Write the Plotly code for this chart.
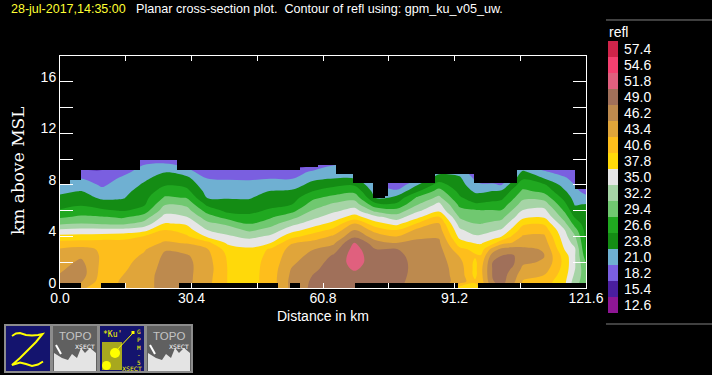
import plotly.graph_objects as go

# ---- data ----
distance_km = [0.0, 4.86, 9.73, 14.6, 19.46, 24.3, 29.2, 34.05, 38.9, 43.8, 48.6, 53.5, 58.4, 63.2,
               68.1, 73.0, 77.8, 82.7, 87.6, 92.4, 95.95, 97.3, 100.0, 102.1, 104.6, 107.0, 111.9, 116.7, 119.0, 121.6]
height_km = [0, 0.5, 1, 1.5, 2, 2.5, 3, 3.5, 4, 4.5, 5, 5.5, 6, 6.5, 7, 7.5, 8, 8.5, 9, 9.5, 10]

refl_by_column = [
    [47.5,47,46.4,45.7,45,44.4,43.7,41.6,38.6,35.5,31.7,29,26.9,25.6,24.4,23.2,22,21,20,19,18],
    [44,46.5,47.5,47.5,46.8,45.7,44.3,41.8,38.8,35.8,32.2,29.9,27.8,26.2,25,23.9,22.6,21,18.9,17.5,16.5],
    [41.5,42,42.3,42.5,42.8,43,43,42,39,35.8,31.8,29.6,27.1,25.1,23.3,21.8,20.6,19.5,18.5,17.5,16.5],
    [44,43.8,43.4,43,42.7,42.2,42,41.7,39.4,35.9,31.6,29,26.4,24.8,23.6,23,22.3,21.6,20.2,19,18],
    [45,45,44.9,44.7,44.3,43.8,43.1,42,40.7,36.9,33.2,30.7,28,26.2,25.7,25,24.2,23.3,22.3,21.3,18],
    [47.5,47.5,47.5,47.2,47,46.7,46,43.8,42.2,40.6,38,36,33.9,32,29.8,28,26.4,25.1,23.7,22,19],
    [46.8,47,47,47,47,46.6,45,43.2,41.1,39.2,37.4,35.2,33.4,31.5,29.3,27.5,25.9,24.6,22.4,20.5,19],
    [44,44.3,44.5,44.7,44.5,44.2,43.6,41.4,37.4,35,32.9,30.7,28.3,25.9,23.7,22.8,22,21,19,17.5,16.5],
    [40.3,40.4,40.4,40.4,40.3,40.1,39.3,37.2,35.4,33.6,31.5,28.2,25.8,24.4,23.7,22.8,21.8,20.8,19,17.5,16.5],
    [39.5,39.5,39.5,39.5,39.5,39.2,38.3,36.5,34.2,31.6,29.3,27.3,25.9,24.7,23.6,22.7,21.8,20.7,19,17.5,16.5],
    [41.5,41.8,41.8,41.7,41.5,41.3,41,37.6,35.5,33.2,31,29,27,25.8,24.9,23.9,22.4,20.9,19,17.5,16.5],
    [47,47,46.7,46.3,45.6,45,44.3,43.2,39.6,36.6,34,31.2,28.5,26.4,25.3,24.2,22.5,20.8,19,17.5,16.5],
    [49.6,49.4,49,48.4,47.8,47,46.1,44.2,42,39,36.4,34.2,32.4,30.6,28.8,26.6,24.7,23.2,21.7,18.2,16.5],
    [50.5,50.5,50.4,50.2,49.9,49.3,47.7,45.6,43.8,41.4,38.6,36.4,34.4,32.6,30.3,28,25.9,23.8,22.4,21.1,19],
    [49.5,50,51,52.2,53,53.2,53,52.2,48.4,46.2,43.4,38.9,36.1,33.6,31.2,28.7,26.3,23.8,22.5,21,19],
    [49.8,50,50.2,50.3,50.3,50,49.1,47.1,44.9,42.2,38.7,35.8,31.4,27.3,23.7,22.5,21.5,20.5,19.5,18.5,17.5],
    [49.6,49.8,50,50.2,50.1,49.8,49.2,46.1,43.4,40.6,36.8,33.6,30.5,27,24.8,21.7,18.9,17.5,16.5,16,15.5],
    [47.5,47.8,48,48,48,47.8,47.4,46.8,45.7,44.1,40.9,37.2,34.5,32,29.9,26.4,23.8,21,19,18,17],
    [47.3,47.5,47.5,47.5,47.5,47.4,47.2,46.7,45.9,44.7,43.5,40.8,37.3,35.7,32.9,30.6,27.8,25.2,23,21,19],
    [39,45.2,45,44.8,44.2,43.2,41.3,39.1,36.9,35.5,33.7,31.9,30.3,28.6,27,25.8,25,24.3,22.8,21,19],
    [39.5,41,39.8,39.8,40,40.9,39.9,37.6,35.4,33.5,32.2,31,29.8,27,25,23.4,22,20.5,19,18,17],
    [41,42,42.5,42.6,42,40.8,39.2,37.5,35.5,33.7,32.1,30.9,29.6,27,25.1,23.3,21.4,19.5,18.5,17.5,16.5],
    [47,48.8,49.2,49.2,49,47.6,44.6,39.6,36.5,34.5,32.7,31.1,29.6,27.4,25.6,23.9,21.4,19.5,18.5,17.5,16.5],
    [49.5,50,50,50,49.8,49,47,42.4,37.8,35.3,33.3,31.4,29.6,27.8,26,24.4,21,19.5,18.5,17.5,16.5],
    [46,47.2,48,48.8,49.6,49.4,47.4,43.6,41,38.6,36.3,34.3,32.4,30.6,28.8,27.2,25.5,22.5,21,19,18],
    [42.5,43.2,44.2,45.6,46.7,47.3,46.8,45,43.7,42,40,37,35.2,33.4,31.6,30,28.1,26.3,24.4,21,19],
    [41.5,42.2,43.4,44.8,45.9,46.3,46,44.9,43.9,42.2,40.2,37.5,35.9,33.6,31.1,28.7,27.1,23.8,21.5,19,17],
    [38.2,38.4,39,39.4,39.6,39.2,37.6,36.7,35.9,35,32.8,30.8,28.9,27.2,25.6,24.1,22.6,21.5,19.5,17.5,16],
    [33,33.5,34.5,35.2,35.3,35.3,35.5,34,32.6,30.6,28.3,26.4,24.7,23.6,22.8,22,21,19.8,18.5,17.5,16.5],
    [30,30.5,30.4,30,29.2,27.8,26.5,26.2,25.9,25.6,25.2,24.8,24.4,23.9,22,19.8,17.5,16.5,16,15.5,15],
]

# upper limit of valid data
top_from = [0, 2.3, 4.85, 18.5, 27, 55.5, 59.7, 63.8, 67.8, 72.4, 75.1, 75.9, 86.7, 95.7, 105.6, 119.1]
top_to = [2.3, 4.85, 18.5, 27, 55.5, 59.7, 63.8, 67.8, 72.4, 75.1, 75.9, 86.7, 95.7, 105.6, 119.1, 121.6]
top_height = [8.0, 8.4, 9.17, 9.95, 9.17, 9.35, 9.55, 8.86, 8.13, 6.97, 7.1, 8.13, 8.86, 8.13, 9.17, 7.67]
# sections with no data at the ground
gap_from = [0, 9.5, 27.4, 53.1, 68.2, 96.7]
gap_to = [4.85, 15, 50.5, 55.5, 92.1, 121.6]
gap_height = [0.36, 0.36, 0.36, 0.36, 0.36, 0.36]

legend_labels = ["12.6", "15.4", "18.2", "21.0", "23.8", "26.6", "29.4", "32.2", "35.0",
                 "37.8", "40.6", "43.4", "46.2", "49.0", "51.8", "54.6", "57.4"]
legend_colors = ["#8E1694", "#4A1E9E", "#7A5FE0", "#6FB0D2", "#148C14", "#20A820", "#70C870", "#A6D4A6",
                 "#E6E6E6", "#FFD90A", "#FEBE1C", "#E0A53A", "#BD8A4E", "#A0705A", "#E0607E", "#F54070", "#D0244A"]
x_ticks = [0, 15.2, 30.4, 45.6, 60.8, 76, 91.2, 106.4, 121.6]
x_ticklabels = ["0.0", "", "30.4", "", "60.8", "", "91.2", "", "121.6"]
y_ticks = [0, 2, 4, 6, 8, 10, 12, 14, 16, 18]
y_ticklabels = ["0", "", "4", "", "8", "", "12", "", "16", ""]

# ---- layout helpers (pixel positions for page furniture) ----
W, H = 712, 375
L, R, T, B = 60, 586, 56, 288
def px(v): return v / W
def py(v): return 1 - v / H
FONT = "Liberation Sans"

n = len(legend_colors) + 1
colorscale = [[0, legend_colors[0]]] + [[(k + 1) / n, c] for k, c in enumerate(legend_colors)] + [[1, legend_colors[-1]]]

fig = go.Figure()
fig.add_trace(go.Contour(
    x=distance_km, y=height_km, z=[list(r) for r in zip(*refl_by_column)],
    autocontour=False, contours=dict(start=12.6, end=60.2, size=2.8, coloring="fill", showlines=False),
    line=dict(width=0), colorscale=colorscale, hoverinfo="skip", showscale=False,
))
for fr, to, base, height in [(top_from, top_to, top_height, [10.2] * len(top_height)),
                             (gap_from, gap_to, [0] * len(gap_from), gap_height)]:
    fig.add_trace(go.Bar(
        x=[(a + b) / 2 for a, b in zip(fr, to)], width=[b - a for a, b in zip(fr, to)],
        base=base, y=height, marker=dict(color="black", line=dict(width=0)),
        hoverinfo="skip", showlegend=False,
    ))
# legend swatches with labels on a small axis of their own
fig.add_trace(go.Heatmap(
    z=[[i] for i in range(len(legend_labels))], y=legend_labels, x=["refl"], xaxis="x2", yaxis="y2",
    zmin=0, zmax=len(legend_labels) - 1, showscale=False, hoverinfo="skip",
    colorscale=[[i / (len(legend_colors) - 1), c] for i, c in enumerate(legend_colors)],
))

shapes = []
ann = []
def rect(x0, y0, x1, y1, fill, line=None, lw=0):
    shapes.append(dict(type="rect", xref="paper", yref="paper", x0=px(x0), x1=px(x1), y0=py(y0), y1=py(y1),
                       fillcolor=fill, line=dict(color=line or fill, width=lw), layer="above"))
def path(pts, color=None, fill=None, lw=1, close=False):
    d = "M " + " L ".join(f"{px(a):.5f},{py(b):.5f}" for a, b in pts) + (" Z" if close else "")
    shapes.append(dict(type="path", xref="paper", yref="paper", path=d, fillcolor=fill or "rgba(0,0,0,0)",
                       line=dict(color=color or "rgba(0,0,0,0)", width=lw), layer="above"))
def text(x, y, s, size=12, color="white", anchor="left", angle=0, family=FONT):
    ann.append(dict(xref="paper", yref="paper", x=px(x), y=py(y), text=s, showarrow=False, xanchor=anchor,
                    yanchor="middle", textangle=angle, align="left", borderpad=0,
                    font=dict(family=family, size=size, color=color)))

# header
text(10, 9, "28-jul-2017,14:35:00", 12.5, "#FFFF33")
text(135, 9, "Planar cross-section plot.&nbsp;&nbsp;Contour of refl using: gpm_ku_v05_uw.", 12.6, "white")
# axis titles
text(323, 316, "Distance in km", 14, anchor="center")
text(18, 171, "km above MSL", 17, angle=-90, anchor="center", family="DejaVu Serif")
# legend panel
text(608, 32, "refl", 14)
path([(606, 20), (712, 20)], "#808080", lw=1)
path([(606, 324), (712, 324)], "#808080", lw=1)

# icons
for x0, bg in [(5, "#14146E"), (52, "#606060"), (99, "#14146E"), (146, "#606060")]:
    rect(x0, 325, x0 + 46, 372, bg, "#8C8C8C", 2)
path([(12, 336), (16, 333.5), (20, 333), (26, 335), (32, 335.5), (38, 335), (42.5, 334), (36, 342), (28, 350),
      (20, 358), (12, 365), (20, 362.5), (26, 364), (32, 366), (38, 364.5), (43, 361.5)], "#FFFF00", lw=2)
for x0 in (52, 146):
    path([(x0 + 2, 371), (x0 + 2, 353), (x0 + 10, 358), (x0 + 16, 360), (x0 + 20, 354), (x0 + 25, 358), (x0 + 29, 348),
          (x0 + 33, 353), (x0 + 38, 348), (x0 + 44, 353), (x0 + 44, 371)], fill="#E4E4E4", close=True)
    text(x0 + 23, 335.5, "TOPO", 11.5, "#C4C4C4", anchor="center")
    text(x0 + 33, 346, "XSECT", 6, "white", anchor="center", family="DejaVu Sans")
    path([(x0 + 4, 345), (x0 + 9, 354)], "white", lw=2)
rect(102, 342, 122, 370, "#A8A81E")
shapes.append(dict(type="circle", xref="paper", yref="paper", x0=px(110), x1=px(120), y0=py(348), y1=py(358),
                   fillcolor="#FFFF00", line=dict(width=0), layer="above"))
shapes.append(dict(type="circle", xref="paper", yref="paper", x0=px(102), x1=px(111), y0=py(361), y1=py(370),
                   fillcolor="#FFFF00", line=dict(width=0), layer="above"))
path([(115, 352), (133, 333)], "#FFFF00", lw=1)
rect(131.5, 331, 134.5, 334, "#FFFF00")
text(112, 334, "*Ku'", 8, "#FFFF00", anchor="center", family="DejaVu Sans Mono")
text(139, 346.5, "G<br>P<br>M<br>-<br>5", 6, "#FFFF00", anchor="center", family="DejaVu Sans Mono")
text(132, 368, "XSECT", 6, "#FFFF00", anchor="center", family="DejaVu Sans")

axis = dict(showgrid=False, zeroline=False, showline=True, linecolor="white", linewidth=1, mirror="ticks",
            ticks="inside", tickcolor="white", tickwidth=1, tickmode="array", fixedrange=True, automargin=False,
            tickfont=dict(family=FONT, size=14, color="white"))
fig.update_layout(
    width=W, height=H, autosize=False,
    margin=dict(l=0, r=0, t=0, b=0, pad=0),
    paper_bgcolor="black", plot_bgcolor="black", barmode="overlay", bargap=0, showlegend=False,
    xaxis=dict(axis, domain=[px(L), px(R)], range=[0, 121.6], tickvals=x_ticks, ticktext=x_ticklabels, ticklen=5,
               ticklabelstandoff=-3),
    yaxis=dict(axis, domain=[py(B), py(T)], range=[0, 18], tickvals=y_ticks, ticktext=y_ticklabels, ticklen=13,
               ticklabelshift=-5),
    xaxis2=dict(domain=[px(608), px(618)], anchor="y2", visible=False, fixedrange=True, automargin=False),
    yaxis2=dict(domain=[py(313), py(41)], anchor="x2", side="right", type="category", fixedrange=True,
                automargin=False, showgrid=False, zeroline=False, showline=False, ticks="", ticklen=0,
                tickmode="array", tickvals=legend_labels, ticktext=legend_labels, ticklabelstandoff=5,
                tickfont=dict(family=FONT, size=14, color="white")),
    shapes=shapes, annotations=ann,
)
fig.write_html("out.html", config=dict(displayModeBar=False), post_script="document.body.style.margin='0';")
